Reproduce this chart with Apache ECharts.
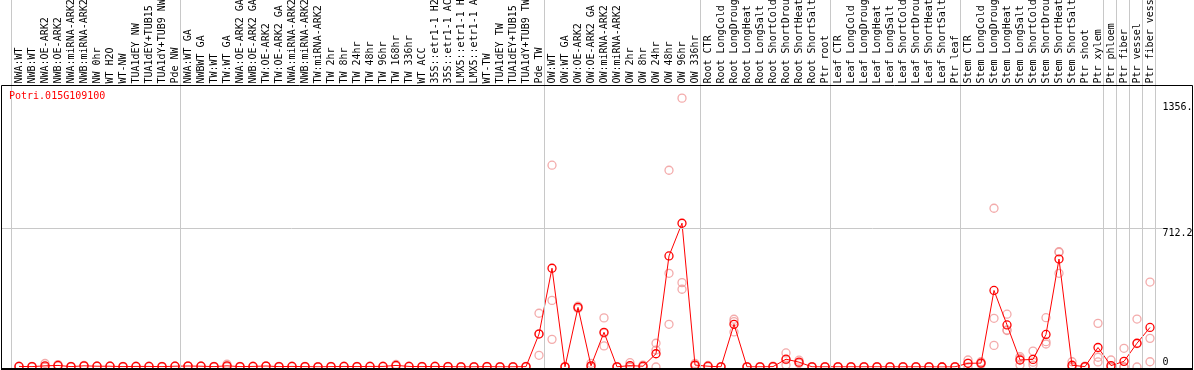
<!DOCTYPE html>
<html><head><meta charset="utf-8">
<script src="https://cdn.jsdelivr.net/npm/echarts@6/dist/echarts.min.js"></script>
<style>html,body{margin:0;padding:0;background:#fff}#c{width:1194px;height:370px}</style>
</head><body><div id="c"></div>
<script>
const geneName = 'Potri.015G109100';
const categories = [
 'NWA:WT','NWB:WT','NWA:OE-ARK2','NWB:OE-ARK2','NWA:miRNA-ARK2','NWB:miRNA-ARK2','NW 0hr','WT H2O','WT-NW','TUA1dEY NW','TUA1dEY+TUB15','TUA1dY+TUB9 NW','Pde NW',
 'NWA:WT GA','NWBWT GA','TW:WT','TW:WT GA','NWA:OE-ARK2 GA','NWB:OE-ARK2 GA','TW:OE-ARK2','TW:OE-ARK2 GA','NWA:miRNA-ARK2','NWB:miRNA-ARK2','TW:miRNA-ARK2','TW 2hr','TW 8hr','TW 24hr','TW 48hr','TW 96hr','TW 168hr','TW 336hr','WT ACC','35S::etr1-1 H2','35S::etr1-1 AC','LMX5::etr1-1 H','LMX5::etr1-1 A','WT-TW','TUA1dEY TW','TUA1dEY+TUB15','TUA1dY+TUB9 TW','Pde TW',
 'OW:WT','OW:WT GA','OW:OE-ARK2','OW:OE-ARK2 GA','OW:miRNA-ARK2','OW:miRNA-ARK2','OW 2hr','OW 8hr','OW 24hr','OW 48hr','OW 96hr','OW 336hr',
 'Root CTR','Root LongCold','Root LongDroug','Root LongHeat','Root LongSalt','Root ShortCold','Root ShortDrou','Root ShortHeat','Root ShortSalt','Ptr root',
 'Leaf CTR','Leaf LongCold','Leaf LongDroug','Leaf LongHeat','Leaf LongSalt','Leaf ShortCold','Leaf ShortDrou','Leaf ShortHeat','Leaf ShortSalt','Ptr leaf',
 'Stem CTR','Stem LongCold','Stem LongDroug','Stem LongHeat','Stem LongSalt','Stem ShortCold','Stem ShortDrou','Stem ShortHeat','Stem ShortSalt','Ptr shoot','Ptr xylem',
 'Ptr phloem','Ptr fiber','Ptr vessel','Ptr fiber vess'
];
const meanValues = [
 3,2,6,8,2,6,4,4,2,3,3,2,4,
 5,4,2,6,2,3,5,2,3,2,1,2,3,2,3,3,8,3,2,3,2,1,1,2,1,1,2,169,
 507,1,306,6,178,1,7,4,68,570,738,10,
 4,1,219,1,1,2,40,25,1,1,
 1,1,1,1,1,1,1,1,0,1,
 19,20,393,216,36,39,167,554,9,2,100,
 7,29,122,203
];
const rep1 = [
 4,2,18,12,2,8,4,5,2,3,3,2,5,
 6,4,2,14,2,3,6,2,3,2,1,2,3,2,3,3,13,3,2,3,2,1,1,2,1,1,2,276,
 1036,1,312,19,252,1,22,10,122,1010,1380,18,
 8,1,245,1,1,4,72,35,1,1,
 1,1,1,1,1,1,1,1,0,1,
 36,27,815,271,53,82,253,589,27,5,224,
 36,96,246,436
];
const rep2 = [
 2,1,0,8,3,5,5,3,3,4,2,1,4,
 4,5,3,2,3,4,5,3,4,3,2,3,4,3,4,2,6,4,3,4,3,2,2,3,2,2,3,171,
 342,2,300,0,174,2,0,2,87,481,433,8,
 2,2,233,2,2,2,38,20,2,2,
 2,2,2,2,2,2,2,2,0,2,
 20,20,250,187,45,25,130,481,0,0,50,
 0,0,120,147
];
const rep3 = [
 3,3,0,4,1,5,3,4,1,2,4,3,3,
 5,3,1,2,1,2,4,1,2,1,0,1,2,1,2,4,5,2,1,2,1,0,0,1,0,0,1,60,
 142,0,306,0,108,0,0,0,0,219,399,4,
 2,0,180,0,0,0,10,20,0,0,
 0,0,0,0,0,0,0,0,0,0,
 0,14,111,190,10,10,118,592,0,0,26,
 0,0,0,27
];
const groupBoundaries = [0,13,41,53,63,73,84,85,86,87,88];
const yTickValues = [0, 712.2, 1356.4];
const yMax = 1445;

const FONT = 'DejaVu Sans Mono';
const repPoints = [];
[rep1, rep2, rep3].forEach(r => r.forEach((v, i) => repPoints.push([i, v])));
const fmt = v => String(v).slice(0, 5);

const chart = echarts.init(document.getElementById('c'), null, {renderer: 'canvas'});
chart.setOption({
  animation: false,
  backgroundColor: '#fff',
  title: {text: geneName, left: 9, top: 91, padding: 0,
    textStyle: {color: '#ff0000', fontFamily: FONT, fontSize: 10, fontWeight: 'normal'}},
  grid: [
    {left: 12.5, right: 37.5, top: 85.5, bottom: 3, outerBoundsMode: 'none', containLabel: false},
    {left: 11.5, right: 38.5, top: 0, bottom: 1, outerBoundsMode: 'none', containLabel: false},
    {left: 1, right: 31, top: 85.5, bottom: 3, outerBoundsMode: 'none', containLabel: false}
  ],
  xAxis: [
    {type: 'category', gridIndex: 0, data: categories, position: 'top', boundaryGap: true,
     axisLine: {show: false}, axisTick: {show: false}, splitLine: {show: false},
     axisLabel: {interval: 0, rotate: 90, margin: 2, fontFamily: FONT, fontSize: 10, color: '#000', hideOverlap: false}},
    {type: 'value', gridIndex: 1, min: 0, max: 88, show: false},
    {type: 'value', gridIndex: 2, min: 0, max: 1, show: false}
  ],
  yAxis: [
    {type: 'value', gridIndex: 0, min: 0, max: yMax, position: 'right',
     axisLine: {show: false}, axisTick: {show: false}, splitLine: {show: false},
     axisLabel: {customValues: yTickValues.slice(1), formatter: fmt, verticalAlign: 'top', align: 'left',
       margin: 6, fontFamily: FONT, fontSize: 10, color: '#000'}},
    {type: 'value', gridIndex: 0, min: 0, max: yMax, position: 'right',
     axisLine: {show: false}, axisTick: {show: false}, splitLine: {show: false},
     axisLabel: {customValues: yTickValues.slice(0, 1), formatter: fmt, verticalAlign: 'bottom', align: 'left',
       margin: 6, fontFamily: FONT, fontSize: 10, color: '#000'}},
    {type: 'value', gridIndex: 1, min: 0, max: 1, show: false},
    {type: 'value', gridIndex: 2, min: 0, max: yMax, show: false}
  ],
  series: [
    {type: 'line', xAxisIndex: 1, yAxisIndex: 2, data: [], silent: true,
     markLine: {silent: true, symbol: ['none', 'none'], label: {show: false}, animation: false,
       lineStyle: {color: '#c8c8c8', width: 1, type: 'solid'},
       data: groupBoundaries.map(b => ({xAxis: b}))}},
    {type: 'line', xAxisIndex: 2, yAxisIndex: 3, data: [], silent: true,
     markLine: {silent: true, symbol: ['none', 'none'], label: {show: false}, animation: false,
       lineStyle: {color: '#c8c8c8', width: 1, type: 'solid'},
       data: [{yAxis: yTickValues[1]}]}},
    {type: 'scatter', xAxisIndex: 0, yAxisIndex: 0, data: repPoints, symbol: 'circle', symbolSize: 8, z: 3,
     itemStyle: {color: 'rgba(255,255,255,0)', borderColor: '#f09696', borderWidth: 1.3}},
    {type: 'line', xAxisIndex: 0, yAxisIndex: 0, data: meanValues, symbol: 'circle', symbolSize: 8,
     showAllSymbol: true, z: 4,
     lineStyle: {color: '#ff0000', width: 1},
     itemStyle: {color: 'rgba(255,255,255,0)', borderColor: '#ff0000', borderWidth: 1.3}}
  ],
  graphic: [
    {type: 'rect', silent: true, z: 100, shape: {x: 1.5, y: 85.5, width: 1191, height: 283},
     style: {fill: null, stroke: '#000', lineWidth: 1}},
    {type: 'line', silent: true, z: 100, shape: {x1: 1, y1: 369, x2: 1193, y2: 369},
     style: {stroke: '#000', lineWidth: 2}}
  ]
});
</script></body></html>
